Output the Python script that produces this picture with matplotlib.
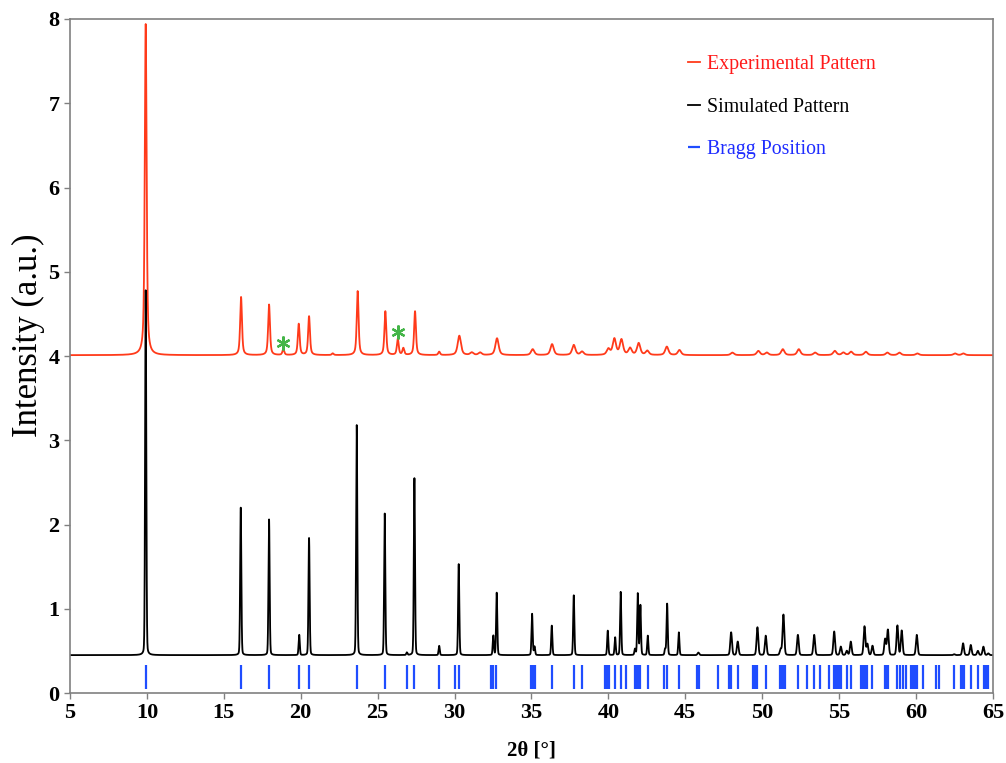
import matplotlib
matplotlib.use("Agg")
import matplotlib.pyplot as plt
import numpy as np

# Eksperimentaalse difraktogrammi piigid (asend 2θ, piigi tipu väärtus)
exp_pos = [9.92, 16.12, 17.94, 18.87, 19.87, 20.54, 22.08, 23.70, 25.50, 26.31, 26.67,
           27.43, 29.00, 30.31, 31.12, 31.66, 32.76, 35.08, 36.34, 37.75, 38.29, 40.00,
           40.39, 40.85, 41.41, 41.97, 42.53, 43.80, 44.62, 48.06, 49.75, 50.30, 51.34,
           52.38, 53.44, 54.72, 55.28, 55.78, 56.74, 58.14, 58.92, 60.09, 62.54, 63.08]
exp_top = [7.94, 4.70, 4.61, 4.08, 4.38, 4.47, 4.03, 4.77, 4.53, 4.20, 4.09,
           4.53, 4.05, 4.24, 4.04, 4.04, 4.21, 4.08, 4.14, 4.13, 4.05, 4.08,
           4.20, 4.19, 4.09, 4.15, 4.06, 4.11, 4.07, 4.04, 4.06, 4.04, 4.08,
           4.08, 4.04, 4.06, 4.04, 4.05, 4.05, 4.04, 4.04, 4.03, 4.03, 4.03]
exp_alus = 4.01

# Simuleeritud difraktogrammi piigid
sim_pos = [9.92, 16.10, 17.94, 19.90, 20.54, 23.64, 25.46, 26.90, 27.39, 29.00, 30.27,
           32.52, 32.74, 35.04, 35.20, 36.32, 37.75, 39.96, 40.44, 40.80, 41.73, 41.91,
           42.08, 42.56, 43.69, 43.82, 44.58, 45.85, 47.98, 48.41, 49.69, 50.23, 51.20,
           51.38, 52.32, 53.38, 54.68, 55.11, 55.50, 55.76, 56.65, 56.84, 57.17, 57.99,
           58.17, 58.79, 59.07, 60.05, 62.48, 63.06, 63.56, 64.02, 64.38, 64.70]
sim_top = [4.78, 2.20, 2.06, 0.69, 1.84, 3.18, 2.13, 0.48, 2.55, 0.56, 1.53,
           0.68, 1.19, 0.94, 0.55, 0.80, 1.16, 0.74, 0.66, 1.20, 0.52, 1.18,
           1.04, 0.68, 0.52, 1.06, 0.72, 0.48, 0.72, 0.61, 0.78, 0.68, 0.52,
           0.93, 0.69, 0.69, 0.73, 0.55, 0.50, 0.61, 0.79, 0.58, 0.56, 0.64,
           0.75, 0.80, 0.74, 0.69, 0.46, 0.59, 0.57, 0.50, 0.55, 0.47]
sim_alus = 0.45

# Braggi asendid
bragg = [9.92, 16.10, 17.94, 19.90, 20.54, 23.64, 25.46, 26.90, 27.39, 29.00, 30.05,
         30.27, 32.35, 32.52, 32.70, 34.98, 35.13, 35.21, 36.32, 37.75, 38.27, 39.81,
         39.94, 40.03, 40.44, 40.81, 41.13, 41.74, 41.85, 41.95, 42.08, 42.56, 43.64,
         43.80, 44.58, 45.79, 45.85, 45.92, 47.11, 47.83, 47.91, 48.00, 48.41, 49.41,
         49.52, 49.69, 50.23, 51.17, 51.27, 51.38, 51.49, 52.31, 52.94, 53.38, 53.77,
         54.35, 54.68, 54.78, 54.89, 55.00, 55.11, 55.50, 55.76, 56.41, 56.52, 56.63,
         56.74, 56.84, 57.17, 57.99, 58.10, 58.21, 58.75, 58.97, 59.14, 59.34, 59.66,
         59.77, 59.88, 59.99, 60.09, 60.44, 61.29, 61.52, 62.44, 62.93, 63.04, 63.13,
         63.56, 64.02, 64.39, 64.56, 64.71]

# Tärnidega märgitud lisapiigid
tarn_x = [18.87, 26.31]
tarn_y = [4.16, 4.28]

xtikid = [5, 10, 15, 20, 25, 30, 35, 40, 45, 50, 55, 60, 65]
ytikid = [0, 1, 2, 3, 4, 5, 6, 7, 8]


def lorentz(x, x0, w):
    return 1.0 / (1.0 + ((x - x0) / (w / 2)) ** 2)


def gauss(x, x0, w):
    return np.exp(-4 * np.log(2) * ((x - x0) / w) ** 2)


x = np.linspace(5, 65, 12001)

# Eksperimentaalne kõver
y_exp = np.full_like(x, exp_alus)
for p, h in zip(exp_pos, exp_top):
    w = 0.14 if p < 30 else 0.25
    y_exp += (h - exp_alus) * (0.6 * lorentz(x, p, w) + 0.4 * gauss(x, p, w))

# Simuleeritud kõver
y_sim = np.full_like(x, sim_alus)
for p, h in zip(sim_pos, sim_top):
    w = 0.09 if p < 45 else 0.13
    y_sim += (h - sim_alus) * (0.15 * lorentz(x, p, w) + 0.85 * gauss(x, p, w))

plt.rcParams["font.family"] = ["Liberation Serif", "DejaVu Serif"]

fig = plt.figure(figsize=(10.06, 7.63), dpi=100)
ax = fig.add_axes([0.0696, 0.0917, 0.9174, 0.8834])

ax.plot(x, y_exp, color="#ff3a1a", lw=1.3, label="Experimental Pattern")
ax.plot(x, y_sim, color="black", lw=1.3, label="Simulated Pattern")
ax.vlines(bragg, 0.05, 0.33, color="#1f4dff", lw=1.6, label="Bragg Position")
ax.plot(tarn_x, tarn_y, ls="none", marker=(6, 2, 0), ms=10, mew=1.6, color="#44b548")

ax.set_xlim(5, 65)
ax.set_ylim(0, 8)
ax.set_xticks(xtikid)
ax.set_yticks(ytikid)
ax.tick_params(direction="out", length=4, width=1, color="#808080", labelsize=16)
for lab in ax.get_xticklabels() + ax.get_yticklabels():
    lab.set_fontweight("bold")
for s in ax.spines.values():
    s.set_color("#808080")
    s.set_linewidth(1.2)

ax.set_xlabel("2θ [°]", fontsize=15, fontweight="bold", labelpad=12)
ax.set_ylabel("Intensity (a.u.)", fontsize=25)
ax.yaxis.set_label_coords(-0.027, 0.531)

leg = ax.legend(loc="upper left", bbox_to_anchor=(0.67, 0.947), frameon=False,
                fontsize=14.3, handlelength=0.6, handletextpad=0.35, labelspacing=1.2,
                borderpad=0, borderaxespad=0,
                labelcolor=["#ff1a1a", "black", "#1f2dff"])

fig.savefig("out.png", dpi=100)
